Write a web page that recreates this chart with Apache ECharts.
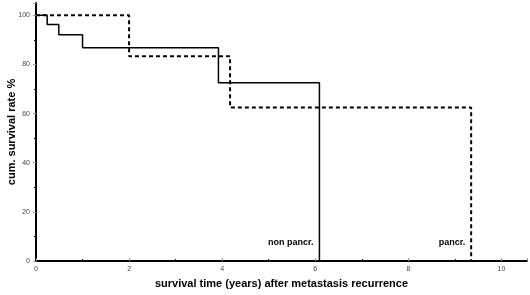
<!DOCTYPE html>
<html>
<head>
<meta charset="utf-8">
<script src="https://cdn.jsdelivr.net/npm/echarts@6/dist/echarts.min.js"></script>
<style>
  html, body { margin: 0; padding: 0; background: #fff; }
  #main { width: 530px; height: 295px; }
</style>
</head>
<body>
<div id="main"></div>
<script>
// Kaplan-Meier steps, [years, cum. survival %]
var nonPancrTimes = [0, 0.24, 0.49, 1.0, 3.92, 6.09];
var nonPancrRates = [100, 96.2, 92.1, 86.8, 72.5, 0];
var pancrTimes = [0, 2.0, 4.17, 9.35];
var pancrRates = [100, 83.3, 62.5, 0];
var xTicks = [0, 2, 4, 6, 8, 10];
var yTicks = [0, 20, 40, 60, 80, 100];

function toPoints(times, rates, labelText) {
  var pts = [];
  for (var i = 0; i < times.length; i++) {
    pts.push([times[i], rates[i]]);
  }
  // label the final drop
  var last = pts[pts.length - 1];
  pts[pts.length - 1] = {
    value: last,
    label: {
      show: true,
      formatter: labelText,
      position: 'left',
      offset: [-1, -18],
      color: '#000',
      fontWeight: 'bold',
      fontSize: 9,
      fontFamily: 'Liberation Sans, Arial, sans-serif'
    }
  };
  return pts;
}

var chart = echarts.init(document.getElementById('main'));
chart.setOption({
  animation: false,
  grid: { left: 36, right: 3, top: 3, bottom: 34, outerBoundsMode: 'none', containLabel: false },
  xAxis: {
    type: 'value',
    min: 0,
    max: 10.55,
    interval: 2,
    name: 'survival time (years) after metastasis recurrence',
    nameLocation: 'middle',
    nameGap: 17,
    nameMoveOverlap: false,
    nameTextStyle: { fontWeight: 'bold', fontSize: 11, color: '#000', fontFamily: 'Liberation Sans, Arial, sans-serif' },
    axisLine: { lineStyle: { color: '#000', width: 2 } },
    axisTick: { inside: true, length: 3, lineStyle: { color: '#999' } },
    minorTick: { show: true, splitNumber: 2, length: 2, lineStyle: { color: '#000' } },
    axisLabel: {
      fontSize: 7,
      color: '#444',
      margin: 5,
      showMaxLabel: false,
      formatter: function (v) { return xTicks.indexOf(v) >= 0 ? String(v) : ''; }
    },
    splitLine: { show: false }
  },
  yAxis: {
    type: 'value',
    min: 0,
    max: 105,
    interval: 20,
    name: 'cum. survival rate %',
    nameLocation: 'middle',
    nameGap: 19,
    nameMoveOverlap: false,
    nameTextStyle: { fontWeight: 'bold', fontSize: 11, color: '#000', fontFamily: 'Liberation Sans, Arial, sans-serif' },
    axisLine: { show: true, lineStyle: { color: '#000', width: 2 } },
    axisTick: { show: true, length: 3, lineStyle: { color: '#999' } },
    minorTick: { show: true, splitNumber: 2, length: 2, lineStyle: { color: '#000' } },
    axisLabel: {
      fontSize: 7,
      color: '#444',
      margin: 6,
      showMaxLabel: false,
      formatter: function (v) { return yTicks.indexOf(v) >= 0 ? String(v) : ''; }
    },
    splitLine: { show: false }
  },
  series: [
    {
      name: 'non pancr.',
      type: 'line',
      step: 'end',
      symbol: 'circle',
      symbolSize: 0,
      showSymbol: true,
      lineStyle: { color: '#000', width: 1.5 },
      itemStyle: { color: '#000' },
      data: toPoints(nonPancrTimes, nonPancrRates, 'non pancr.')
    },
    {
      name: 'pancr.',
      type: 'line',
      step: 'end',
      symbol: 'circle',
      symbolSize: 0,
      showSymbol: true,
      lineStyle: { color: '#000', width: 2, type: [4, 3] },
      itemStyle: { color: '#000' },
      data: toPoints(pancrTimes, pancrRates, 'pancr.')
    }
  ]
});
</script>
</body>
</html>
